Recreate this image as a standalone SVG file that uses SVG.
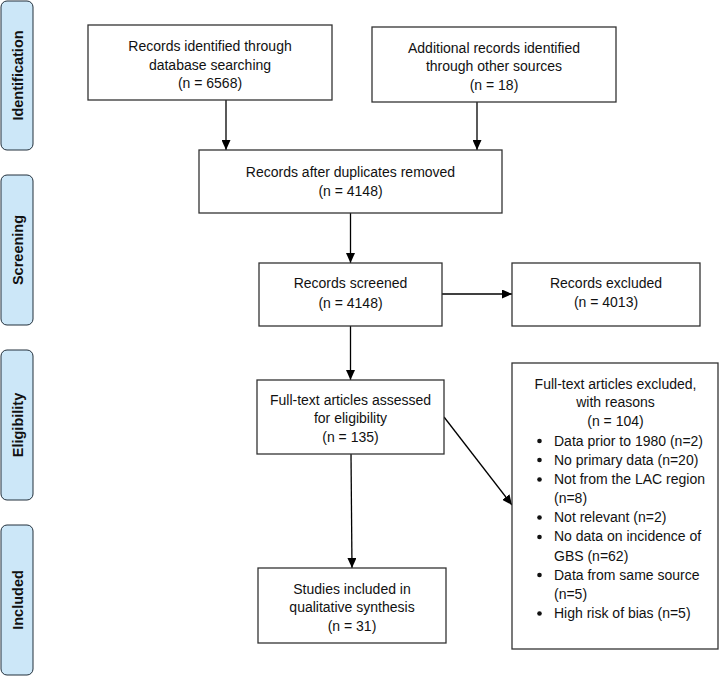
<svg xmlns="http://www.w3.org/2000/svg" width="719" height="676" viewBox="0 0 719 676">
<defs>
<marker id="ah" markerUnits="userSpaceOnUse" markerWidth="10" markerHeight="9" refX="10" refY="4.5" orient="auto">
<path d="M0,0 L10,4.5 L0,9 z" fill="#000"/>
</marker>
<style>
.box{fill:#fff;stroke:#333;stroke-width:1.3}
.side{fill:#cce7f8;stroke:#22303c;stroke-width:1}
.t{font-family:"Liberation Sans",Arial,sans-serif;font-size:14px;fill:#111;text-anchor:middle}
.tl{font-family:"Liberation Sans",Arial,sans-serif;font-size:14px;fill:#111}
.s{font-family:"Liberation Sans",Arial,sans-serif;font-size:14.5px;font-weight:bold;fill:#111;text-anchor:middle;dominant-baseline:central}
.c{stroke:#000;stroke-width:1.3;fill:none;marker-end:url(#ah)}
</style>
</defs>
<rect width="719" height="676" fill="#fff"/>
<g id="side-identification"><rect class="side" x="1" y="1" width="32" height="149" rx="6"/><text class="s" transform="translate(18,75.5) rotate(-90)">Identification</text></g>
<g id="side-screening"><rect class="side" x="1" y="175" width="32" height="150" rx="6"/><text class="s" transform="translate(18,250) rotate(-90)">Screening</text></g>
<g id="side-eligibility"><rect class="side" x="1" y="350" width="32" height="150" rx="6"/><text class="s" transform="translate(18,425) rotate(-90)">Eligibility</text></g>
<g id="side-included"><rect class="side" x="1" y="525" width="32" height="150" rx="6"/><text class="s" transform="translate(18,600) rotate(-90)">Included</text></g>

<g id="connectors">
<line class="c" x1="226" y1="100" x2="226" y2="150"/>
<line class="c" x1="477" y1="102" x2="477" y2="150"/>
<line class="c" x1="350.5" y1="213" x2="350.5" y2="263"/>
<line class="c" x1="350.5" y1="326" x2="350.5" y2="380"/>
<line class="c" x1="442" y1="294" x2="512" y2="294"/>
<line class="c" x1="351" y1="454" x2="352" y2="568"/>
<line class="c" x1="444" y1="417" x2="512" y2="505"/>
</g>

<g id="n-database"><rect class="box" x="88" y="25" width="244" height="75"/>
<text class="t" x="210" y="51">Records identified through</text>
<text class="t" x="210" y="70">database searching</text>
<text class="t" x="210" y="88">(n = 6568)</text></g>

<g id="n-other"><rect class="box" x="372" y="27" width="244" height="75"/>
<text class="t" x="494" y="53">Additional records identified</text>
<text class="t" x="494" y="71">through other sources</text>
<text class="t" x="494" y="90">(n = 18)</text></g>

<g id="n-dedup"><rect class="box" x="199" y="150" width="303" height="63"/>
<text class="t" x="350.5" y="177">Records after duplicates removed</text>
<text class="t" x="350.5" y="196">(n = 4148)</text></g>

<g id="n-screened"><rect class="box" x="259" y="263" width="183" height="63"/>
<text class="t" x="350.5" y="288">Records screened</text>
<text class="t" x="350.5" y="308">(n = 4148)</text></g>

<g id="n-excluded"><rect class="box" x="512" y="263" width="188" height="63"/>
<text class="t" x="606" y="288">Records excluded</text>
<text class="t" x="606" y="307">(n = 4013)</text></g>

<g id="n-fulltext"><rect class="box" x="257" y="380" width="187" height="74"/>
<text class="t" x="350.5" y="405">Full-text articles assessed</text>
<text class="t" x="350.5" y="423">for eligibility</text>
<text class="t" x="350.5" y="442">(n = 135)</text></g>

<g id="n-included"><rect class="box" x="258" y="568" width="188" height="75"/>
<text class="t" x="352" y="594">Studies included in</text>
<text class="t" x="352" y="612">qualitative synthesis</text>
<text class="t" x="352" y="631">(n = 31)</text></g>

<g id="n-ftexcluded"><rect class="box" x="512" y="363" width="206" height="286"/>
<text class="t" x="615.5" y="389">Full-text articles excluded,</text>
<text class="t" x="615.5" y="407">with reasons</text>
<text class="t" x="615.5" y="426">(n = 104)</text>
<g fill="#111"><circle cx="539.5" cy="441" r="2.3"/><circle cx="539.5" cy="460" r="2.3"/><circle cx="539.5" cy="479.5" r="2.3"/><circle cx="539.5" cy="517.5" r="2.3"/><circle cx="539.5" cy="537" r="2.3"/><circle cx="539.5" cy="575" r="2.3"/><circle cx="539.5" cy="613.5" r="2.3"/></g>
<text class="tl" x="554" y="446">Data prior to 1980 (n=2)</text>
<text class="tl" x="554" y="465">No primary data (n=20)</text>
<text class="tl" x="554" y="484">Not from the LAC region</text>
<text class="tl" x="554" y="503">(n=8)</text>
<text class="tl" x="554" y="522">Not relevant (n=2)</text>
<text class="tl" x="554" y="541">No data on incidence of</text>
<text class="tl" x="554" y="561">GBS (n=62)</text>
<text class="tl" x="554" y="580">Data from same source</text>
<text class="tl" x="554" y="599">(n=5)</text>
<text class="tl" x="554" y="618">High risk of bias (n=5)</text>
</g>
</svg>
